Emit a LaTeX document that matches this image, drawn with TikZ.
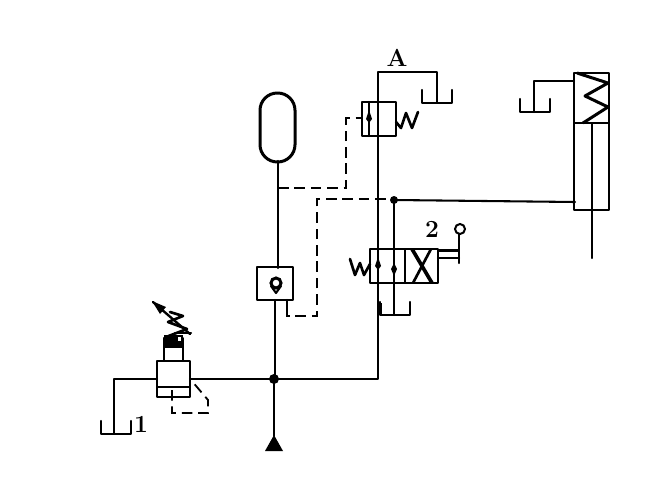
\documentclass[tikz,border=0pt]{standalone}
\usepackage{tikz}
\def\tankcup(#1,#2,#3){\draw[pipe, line width=0.75mm] (#1, #3) -- (#1, #2+13) -- (#1+30, #2+13) -- (#1+30, #3);}
\tikzset{
	pipe/.style={line width=0.62mm, line cap=round, line join=round},
	thick box/.style={line width=0.85mm, line join=round},
	pilot/.style={line width=0.55mm, dash pattern=on 9pt off 5pt},
	label text/.style={font=\fontsize{21}{21}\selectfont\bfseries, inner sep=0pt},
}
\begin{document}
\begin{tikzpicture}[x=0.3mm, y=-0.3mm]
		%%%%% START %%%%%
		\useasboundingbox (0, 0) rectangle (663, 490);
		\fill[white] (0, 0) rectangle (663, 490);

		% main lines
		\draw[pipe] (190, 379) -- (378, 379) -- (378, 72) -- (437, 72) -- (437, 102);
		\draw[pipe] (274, 379) -- (274, 436);
		\draw[pipe] (275, 379) -- (275, 300);
		\draw[pipe] (278, 268) -- (278, 161);
		\draw[pipe] (157, 379) -- (114, 379) -- (114, 433);
		\draw[pipe] (394, 200) -- (394, 315);
		\draw[pipe] (394, 200) -- (575, 202);
		\fill (274, 379) circle (5);
		\fill (394, 200) circle (4);

		% tanks
		\tankcup(101,421,421)
		\tankcup(422,90,90)
		\tankcup(380,302,302)
		\tankcup(520,99,99)
		\draw[pipe] (574, 81) -- (534, 81) -- (534, 112);
		\draw[line width=1mm] (380, 303) -- (380, 315);

		% pump
		\fill (274, 435) -- (283, 451) -- (265, 451) -- cycle;

		% relief valve
		\draw[thick box] (157, 361) rectangle (190, 397);
		\draw[line width=0.85mm] (157, 387) -- (190, 387);
		\draw[thick box] (164, 361) -- (164, 338) -- (183, 338) -- (183, 361);
		\fill (164, 335) rectangle (183, 348);
		\fill[white] (178, 337) rectangle (181, 341);
		\draw[pipe, line width=0.8mm] (166, 337) -- (187, 329) -- (168, 322) -- (183, 316) -- (170, 312);
		\draw[pipe, line width=0.7mm] (153, 302) -- (190, 334);
		\fill (152, 301) -- (166, 307) -- (160, 314) -- cycle;
		\draw[pipe] (175, 333) -- (191, 333);
		\draw[pilot] (172, 390) -- (172, 413) -- (208, 413) -- (208, 400) -- (191, 380);

		% accumulator
		\draw[line width=0.9mm, rounded corners=14.8pt] (260, 93) rectangle (295, 162);

		% check valve
		\draw[thick box] (257, 267) rectangle (293, 300);
		\draw[line width=0.9mm, fill=white] (276, 283) circle (5);
		\draw[pipe] (271, 286) -- (276, 293) -- (281, 286);
		\draw[pipe] (287, 300) -- (287, 310);

		% pilot lines
		\draw[pilot] (278, 188) -- (346, 188) -- (346, 118) -- (362, 118);
		\draw[pilot] (287, 308) -- (287, 316) -- (317, 316) -- (317, 199) -- (393, 199);

		% sequence valve
		\draw[thick box] (362, 102) rectangle (396, 136);
		\draw[pipe] (369, 102) -- (369, 136);
		\fill (369, 110) -- (372, 119) -- (369, 123) -- (366, 119) -- cycle;
		\draw[pipe, line width=0.8mm] (396, 122) -- (401, 128) -- (406, 113) -- (412, 128) -- (418, 112);

		% directional valve
		\draw[thick box] (370, 249) rectangle (438, 283);
		\draw[line width=0.8mm] (405, 249) -- (405, 283);
		\draw[line width=1.1mm] (412, 249) -- (432, 283);
		\draw[line width=0.8mm] (431, 249) -- (413, 283);
		\fill (378, 257) -- (381, 266) -- (378, 270) -- (375, 266) -- cycle;
		\fill (394, 263) -- (397, 269) -- (394, 276) -- (391, 269) -- cycle;
		\draw[pipe, line width=0.8mm] (350, 259) -- (355, 275) -- (360, 263) -- (364, 275) -- (370, 264);
		\draw[line width=0.9mm] (438, 250) -- (460, 250);
		\draw[pipe] (438, 258) -- (459, 258);
		\draw[pipe] (459, 234) -- (459, 263);
		\draw[line width=0.6mm] (460, 229) circle (5);

		% cylinder
		\draw[thick box] (574, 73) rectangle (609, 210);
		\draw[line width=0.85mm] (574, 123) -- (609, 123);
		\draw[line width=0.85mm] (592, 123) -- (592, 210);
		\draw[pipe] (592, 210) -- (592, 258);
		\draw[line width=0.9mm, line join=round] (577, 73) -- (608, 83) -- (585, 96) -- (608, 107) -- (583, 123);

		% labels
		\node[label text] (markA) at (397, 58) {A};
		\node[label text] (mark1) at (141, 424) {1};
		\node[label text] (mark2) at (432, 229) {2};
		%%%%% END %%%%%
	\end{tikzpicture}
\end{document}
